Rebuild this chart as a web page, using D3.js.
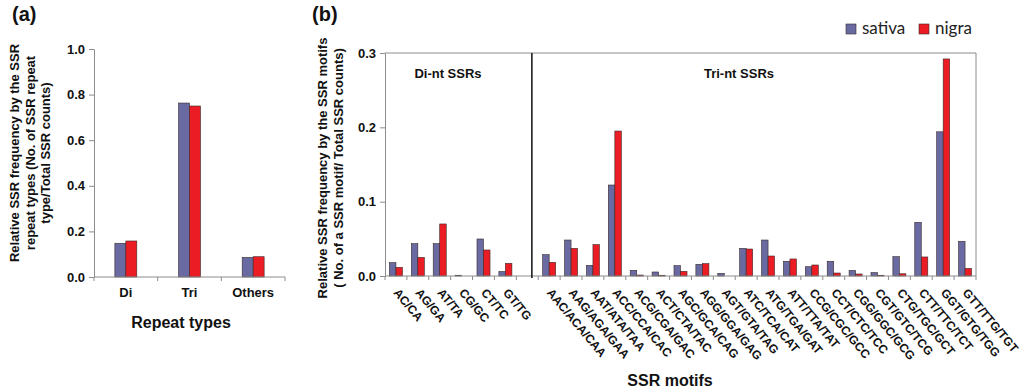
<!DOCTYPE html>
<html>
<head>
<meta charset="utf-8">
<script src="https://cdn.jsdelivr.net/npm/d3@7"></script>
<style>
  html, body { margin: 0; padding: 0; background: #fff; }
  svg { display: block; font-family: "Liberation Sans", Arial, sans-serif; }
  .axis-line { stroke: #8c8c8c; stroke-width: 1; }
</style>
</head>
<body>
<div id="chart"></div>
<script>
(function () {
  'use strict';

  // panel (a): repeat types
  var repeatTypes = ['Di', 'Tri', 'Others'];
  var repeatSativa = [0.148, 0.763, 0.086];
  var repeatNigra = [0.158, 0.750, 0.089];
  var repeatTicks = [0, 0.2, 0.4, 0.6, 0.8, 1.0];

  // panel (b): motifs ('' is the gap between di and tri groups)
  var motifs = ['AC/CA', 'AG/GA', 'AT/TA', 'CG/GC', 'CT/TC', 'GT/TG', '',
    'AAC/ACA/CAA', 'AAG/AGA/GAA', 'AAT/ATA/TAA', 'ACC/CCA/CAC', 'ACG/CGA/GAC',
    'ACT/CTA/TAC', 'AGC/GCA/CAG', 'AGG/GGA/GAG', 'AGT/GTA/TAG', 'ATC/TCA/CAT',
    'ATG/TGA/GAT', 'ATT/TTA/TAT', 'CCG/CGC/GCC', 'CCT/CTC/TCC', 'CGG/GGC/GCG',
    'CGT/GTC/TCG', 'CTG/TGC/GCT', 'CTT/TTC/TCT', 'GGT/GTG/TGG', 'GTT/TTG/TGT'];
  var motifSativa = [0.018, 0.0435, 0.0435, 0.001, 0.0498, 0.006, null,
    0.0287, 0.0484, 0.0144, 0.1224, 0.0076, 0.0054, 0.0139, 0.0157, 0.0036, 0.0372,
    0.0484, 0.0198, 0.0125, 0.0198, 0.0076, 0.0045, 0.026, 0.0722, 0.194, 0.0467];
  var motifNigra = [0.0117, 0.025, 0.070, 0, 0.035, 0.017, null,
    0.0184, 0.0372, 0.0422, 0.195, 0.0013, 0.001, 0.0063, 0.0166, 0, 0.0363,
    0.0269, 0.0229, 0.0148, 0.004, 0.0027, 0.001, 0.003, 0.0256, 0.292, 0.0103];
  var motifTicks = [0, 0.1, 0.2, 0.3];

  var seriesNames = ['sativa', 'nigra'];
  var seriesColors = { sativa: '#6a6aa2', nigra: '#ec1c24' };

  var W = 1024, H = 392;
  var svg = d3.select('#chart').append('svg').attr('width', W).attr('height', H);

  function rows(cats, a, b) {
    return cats.map(function (c, i) {
      return { cat: c, values: [{ key: 'sativa', v: a[i] }, { key: 'nigra', v: b[i] }] };
    });
  }

  function drawBars(g, data, x, inner, y) {
    var groups = g.append('g').selectAll('g')
      .data(data.filter(function (d) { return d.cat !== ''; }))
      .join('g')
      .attr('transform', function (d) { return 'translate(' + x(d.cat) + ',0)'; });
    groups.selectAll('rect')
      .data(function (d) { return d.values.filter(function (e) { return e.v !== null; }); })
      .join('rect')
      .attr('x', function (d) { return inner(d.key); })
      .attr('width', inner.bandwidth())
      .attr('y', function (d) { return y(d.v); })
      .attr('height', function (d) { return y(0) - y(d.v); })
      .attr('fill', function (d) { return seriesColors[d.key]; })
      .attr('stroke', '#3a2a2a')
      .attr('stroke-width', 0.6);
  }

  function yAxis(g, y, ticks) {
    var ax = g.append('g').call(d3.axisLeft(y).tickValues(ticks).tickSize(5).tickSizeOuter(0)
      .tickFormat(d3.format('.1f')));
    ax.select('.domain').attr('stroke', '#8c8c8c');
    ax.selectAll('.tick line').attr('stroke', '#8c8c8c');
    ax.selectAll('.tick text').attr('fill', '#111').attr('font-size', '13px')
      .attr('font-weight', 'bold').attr('x', -9);
    return ax;
  }

  function xBaseline(g, x, y) {
    var r = x.range();
    g.append('line').attr('class', 'axis-line')
      .attr('x1', r[0]).attr('x2', r[1]).attr('y1', y(0)).attr('y2', y(0));
    var edges = x.domain().map(function (c) { return x(c); }).concat([r[1]]);
    g.append('g').selectAll('line').data(edges).join('line')
      .attr('class', 'axis-line')
      .attr('x1', function (d) { return d; }).attr('x2', function (d) { return d; })
      .attr('y1', y(0)).attr('y2', y(0) + 4);
  }

  // ---------- panel (a) ----------
  var ga = svg.append('g');
  var xa = d3.scaleBand().domain(repeatTypes).range([94, 285]).padding(0);
  var ya = d3.scaleLinear().domain([0, 1]).range([277, 49]);
  var innerA = d3.scaleBand().domain(seriesNames).range([0, xa.bandwidth()])
    .paddingInner(0).paddingOuter(1.9);

  yAxis(ga, ya, repeatTicks).attr('transform', 'translate(94,0)');
  drawBars(ga, rows(repeatTypes, repeatSativa, repeatNigra), xa, innerA, ya);
  xBaseline(ga, xa, ya);

  ga.append('g').selectAll('text').data(repeatTypes).join('text')
    .attr('x', function (d) { return xa(d) + xa.bandwidth() / 2; })
    .attr('y', 297)
    .attr('text-anchor', 'middle')
    .attr('font-size', '13px').attr('font-weight', 'bold').attr('fill', '#111')
    .text(function (d) { return d; });

  ga.append('text').attr('x', 181).attr('y', 328).attr('text-anchor', 'middle')
    .attr('font-size', '16px').attr('font-weight', 'bold').attr('fill', '#111')
    .text('Repeat types');

  var titleA = ['Relative  SSR frequency by the SSR', 'repeat types (No. of SSR repeat',
    'type/Total SSR counts)'];
  ga.append('g').attr('transform', 'translate(0,153) rotate(-90)')
    .selectAll('text').data(titleA).join('text')
    .attr('x', 0).attr('y', function (d, i) { return 19 + i * 15.5; })
    .attr('text-anchor', 'middle')
    .attr('font-size', '13px').attr('font-weight', 'bold').attr('fill', '#111')
    .text(function (d) { return d; });

  svg.append('text').attr('x', 12).attr('y', 21).attr('font-size', '20px')
    .attr('font-weight', 'bold').attr('fill', '#111').text('(a)');

  // ---------- panel (b) ----------
  var gb = svg.append('g');
  var xb = d3.scaleBand().domain(motifs).range([385, 976]).padding(0);
  var yb = d3.scaleLinear().domain([0, 0.3]).range([276, 53]);
  var innerB = d3.scaleBand().domain(seriesNames).range([0, xb.bandwidth()])
    .paddingInner(0).paddingOuter(0.68);

  yAxis(gb, yb, motifTicks).attr('transform', 'translate(385,0)');
  gb.append('line').attr('class', 'axis-line')
    .attr('x1', 385).attr('x2', 976).attr('y1', yb(0.3)).attr('y2', yb(0.3));
  gb.append('line').attr('class', 'axis-line')
    .attr('x1', 976).attr('x2', 976).attr('y1', yb(0.3)).attr('y2', yb(0));

  drawBars(gb, rows(motifs, motifSativa, motifNigra), xb, innerB, yb);
  xBaseline(gb, xb, yb);

  // di / tri divider
  var divX = xb('') + xb.bandwidth() * 0.71;
  gb.append('line').attr('x1', divX).attr('x2', divX)
    .attr('y1', yb(0.3)).attr('y2', yb(0) + 2)
    .attr('stroke', '#111').attr('stroke-width', 1.5);

  gb.append('text').attr('x', 448).attr('y', 78).attr('text-anchor', 'middle')
    .attr('font-size', '13px').attr('font-weight', 'bold').attr('fill', '#111').text('Di-nt SSRs');
  gb.append('text').attr('x', 739).attr('y', 78).attr('text-anchor', 'middle')
    .attr('font-size', '13px').attr('font-weight', 'bold').attr('fill', '#111').text('Tri-nt SSRs');

  gb.append('g').selectAll('text').data(motifs.filter(function (d) { return d !== ''; })).join('text')
    .attr('transform', function (d) {
      return 'translate(' + (xb(d) + xb.bandwidth() / 2 - 3) + ',' + (yb(0) + 17) + ') rotate(50)';
    })
    .attr('font-size', '12px').attr('font-weight', 'bold').attr('fill', '#111')
    .text(function (d) { return d; });

  gb.append('text').attr('x', 670).attr('y', 386).attr('text-anchor', 'middle')
    .attr('font-size', '16px').attr('font-weight', 'bold').attr('fill', '#111')
    .text('SSR motifs');

  var titleB = ['Relative  SSR frequency by the  SSR motifs', '( No. of a SSR motif/ Total SSR counts)'];
  gb.append('g').attr('transform', 'translate(0,168) rotate(-90)')
    .selectAll('text').data(titleB).join('text')
    .attr('x', 0).attr('y', function (d, i) { return 327 + i * 15.5; })
    .attr('text-anchor', 'middle')
    .attr('font-size', '13px').attr('font-weight', 'bold').attr('fill', '#111')
    .text(function (d) { return d; });

  svg.append('text').attr('x', 312).attr('y', 21).attr('font-size', '20px')
    .attr('font-weight', 'bold').attr('fill', '#111').text('(b)');

  // legend
  var legendX = [846, 919];
  var legend = svg.append('g').selectAll('g').data(seriesNames).join('g')
    .attr('transform', function (d, i) { return 'translate(' + legendX[i] + ',24)'; });
  legend.append('rect').attr('width', 10).attr('height', 10)
    .attr('fill', function (d) { return seriesColors[d]; })
    .attr('stroke', '#3a2a2a').attr('stroke-width', 0.6);
  legend.append('text').attr('x', 16).attr('y', 10)
    .attr('font-family', 'Lato, "Open Sans", sans-serif')
    .attr('font-size', '17px').attr('fill', '#222')
    .text(function (d) { return d; });
})();
</script>
</body>
</html>
